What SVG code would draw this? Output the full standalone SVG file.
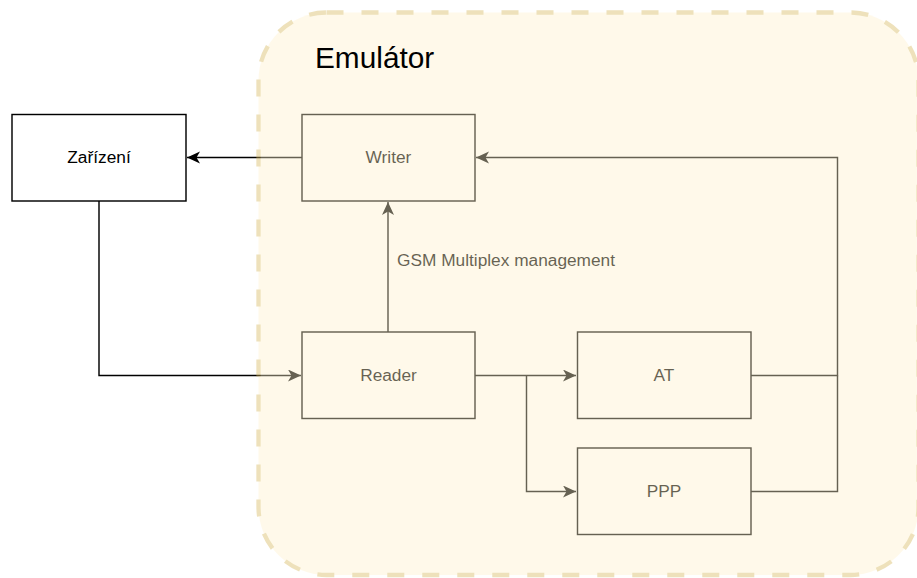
<svg xmlns="http://www.w3.org/2000/svg" width="917" height="578" viewBox="0 0 917 578">
  <style>
    .box { fill: #ffffff; stroke: #000000; stroke-width: 1.44; }
    .lbl { font-family: "Liberation Sans", Arial, sans-serif; font-size: 17.3px; fill: #000000; text-anchor: middle; }
    .edge { fill: none; stroke: #000000; stroke-width: 1.44; }
    .elbl { font-family: "Liberation Sans", Arial, sans-serif; font-size: 17.3px; fill: #000000; }
    .title { font-family: "Liberation Sans", Arial, sans-serif; font-size: 29.8px; fill: #000000; }
  </style>
  <defs>
    <marker id="arr" markerUnits="userSpaceOnUse" markerWidth="14" markerHeight="13" refX="13" refY="6" orient="auto">
      <path d="M13,6 L0,0 L3.5,6 L0,12 Z" fill="#000000" stroke="none"/>
    </marker>
  </defs>
  <rect x="0" y="0" width="917" height="578" fill="#ffffff"/>

  <g id="zarizeni">
    <rect class="box" x="12" y="114.5" width="174" height="86.5"/>
    <text class="lbl" x="99" y="163">Zařízení</text>
  </g>

  <g id="connectors">
    <path class="edge" d="M302,157.5 L187,157.5" marker-end="url(#arr)"/>
    <path class="edge" d="M99,201 L99,375.5 L301,375.5" marker-end="url(#arr)"/>
    <path class="edge" d="M388,332 L388,202" marker-end="url(#arr)"/>
    <text class="elbl" x="397" y="266">GSM Multiplex management</text>
    <path class="edge" d="M475,375.5 L576,375.5" marker-end="url(#arr)"/>
    <path class="edge" d="M526.5,375.5 L526.5,491.5 L576,491.5" marker-end="url(#arr)"/>
    <path class="edge" d="M751,375.5 L837.5,375.5 L837.5,157.5 L476,157.5" marker-end="url(#arr)"/>
    <path class="edge" d="M751,491.5 L837.5,491.5 L837.5,375.5"/>
  </g>

  <g id="writer">
    <rect class="box" x="302" y="114.5" width="173" height="86.5"/>
    <text class="lbl" x="388.5" y="163">Writer</text>
  </g>
  <g id="reader">
    <rect class="box" x="302" y="332" width="173" height="86.5"/>
    <text class="lbl" x="388.5" y="381">Reader</text>
  </g>
  <g id="at">
    <rect class="box" x="577.5" y="332" width="173.5" height="86.5"/>
    <text class="lbl" x="664" y="381">AT</text>
  </g>
  <g id="ppp">
    <rect class="box" x="577.5" y="448" width="173.5" height="86.5"/>
    <text class="lbl" x="664" y="497">PPP</text>
  </g>

  <g id="emulator">
    <rect x="258.5" y="12.5" width="660" height="562.5" rx="68" ry="68" fill="#fff2cc" stroke="#d6b656" stroke-width="4.3" stroke-dasharray="17 18" opacity="0.4"/>
    <text class="title" x="315" y="68">Emulátor</text>
  </g>
</svg>
